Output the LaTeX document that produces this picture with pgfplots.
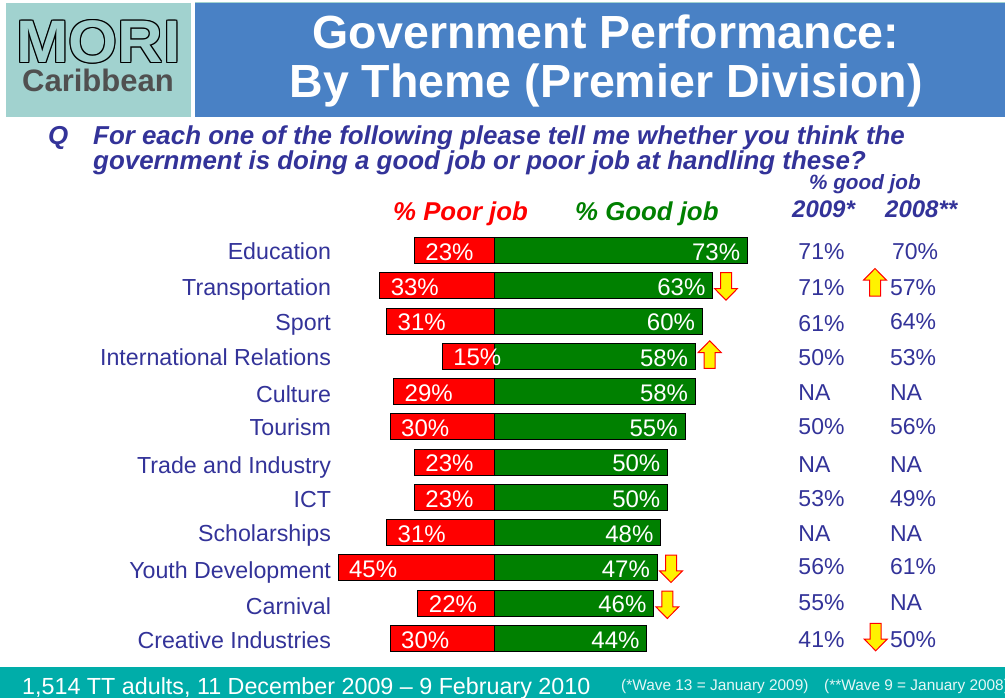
\documentclass[border=0pt]{standalone}
\usepackage{pgfplots}
\pgfplotsset{compat=1.18}
\usepackage{fontspec}
\setmainfont{Liberation Sans}
\definecolor{tblue}{RGB}{51,51,153}
\definecolor{banner}{RGB}{73,129,197}
\definecolor{logo}{RGB}{161,210,207}
\definecolor{foot}{RGB}{0,173,169}
\definecolor{gbar}{RGB}{0,128,0}
\newcommand\fs[1]{\fontsize{#1}{#1}\selectfont}
\newcommand\downarr[2]{\draw[fill=yellow,draw=red,line width=1pt] ({#1-5.5},#2) -- ({#1+5.5},#2) -- ({#1+5.5},{#2+15.8}) -- ({#1+11.5},{#2+15.8}) -- (#1,{#2+27.5}) -- ({#1-11.5},{#2+15.8}) -- ({#1-5.5},{#2+15.8}) -- cycle;}
\newcommand\uparr[2]{\draw[fill=yellow,draw=red,line width=1pt] ({#1-5.5},#2) -- ({#1+5.5},#2) -- ({#1+5.5},{#2-15.8}) -- ({#1+11.5},{#2-15.8}) -- (#1,{#2-27.5}) -- ({#1-11.5},{#2-15.8}) -- ({#1-5.5},{#2-15.8}) -- cycle;}
\begin{document}
\begin{tikzpicture}[x=1pt,y=-1pt]
\path[use as bounding box] (0,0) rectangle (1005,698);
\fill[white] (0,0) rectangle (1005,698);
% banners
\fill[logo] (6,3) rectangle (191,117);
\fill[banner] (195,3) rectangle (1005,117);
\draw[logo,line width=1pt] (195,2.5) -- (1005,2.5);
\foreach \dx/\dy in {-1.2/0,1.2/0,0/-1.2,0/1.2,-.85/-.85,.85/-.85,-.85/.85,.85/.85}{
  \node[anchor=base,inner sep=0,xscale=1.05,text=black] at ({98.5+\dx},{62.5+\dy}) {\fs{60}\bfseries MORI};
}
\node[anchor=base,inner sep=0,xscale=1.05,text=logo] at (98.5,62.5) {\fs{60}\bfseries MORI};
\node[anchor=base,inner sep=0,text={rgb,255:red,80;green,80;blue,80}] at (98,92) {\fs{31}\bfseries Caribbean};
\node[anchor=base,inner sep=0,text=white] at (606,48.5) {\fs{46.5}\bfseries Government Performance:};
\node[anchor=base,inner sep=0,text=white] at (606,98) {\fs{46.5}\bfseries By Theme (Premier Division)};
% question
\begin{scope}[every node/.style={anchor=base west,inner sep=0,text=tblue}]
\node at (48,145) {\fs{25.9}\bfseries\itshape Q};
\node at (93,145) {\fs{25.9}\bfseries\itshape For each one of the following please tell me whether you think the};
\node at (93,170) {\fs{25.9}\bfseries\itshape government is doing a good job or poor job at handling these?};
\node at (809,190) {\fs{20.7}\bfseries\itshape \% good job};
\node at (792,218) {\fs{24}\bfseries\itshape 2009*};
\node at (885,218) {\fs{24}\bfseries\itshape 2008**};
\end{scope}
\node[anchor=base west,inner sep=0,text=red] at (393,221) {\fs{25.8}\bfseries\itshape \% Poor job};
\node[anchor=base west,inner sep=0,text=gbar] at (575,221) {\fs{25.8}\bfseries\itshape \% Good job};
% footer
\fill[foot] (0,667) rectangle (1005,698);
\node[anchor=base west,inner sep=0,text=white] at (22,694) {\fs{23.3}1,514 TT adults, 11 December 2009 – 9 February 2010};
\node[anchor=base west,inner sep=0,text=white!90!foot] at (621,690) {\fs{15.4}(*Wave 13 = January 2009)};
\node[anchor=base west,inner sep=0,text=white!90!foot] at (824,690) {\fs{15.4}(**Wave 9 = January 2008)};
\begin{axis}[
  at={(338.15pt,-655.9pt)},anchor=south west,
  scale only axis,width=409.46pt,height=423pt,
  xmin=-45,xmax=73,ymin=-0.5,ymax=11.5,
  y dir=reverse,clip=false,
  hide x axis,
  axis y line*=left,
  y axis line style={draw=none},
  major tick length=0pt,
  ytick={0,...,11},
  yticklabels={\raisebox{0.5pt}{Education},\raisebox{-1pt}{Transportation},Sport,International Relations,\raisebox{-1.5pt}{Culture},Tourism,\raisebox{-2pt}{Trade and Industry},\raisebox{-1pt}{ICT},\raisebox{0.5pt}{Scholarships},\raisebox{-2pt}{Youth Development},\raisebox{-2pt}{Carnival},\raisebox{-1pt}{Creative Industries}},
  yticklabel style={font=\fs{23.2},text=tblue,anchor=base east,inner sep=0,xshift=-7pt,yshift=-9pt},
  point meta=explicit symbolic,
]
\addplot[xbar,bar shift=0pt,bar width=26pt,fill=gbar,draw=black,line width=1pt,
  nodes near coords=\pgfplotspointmeta,
  nodes near coords style={anchor=east,inner sep=0,xshift=-7pt,yshift=-1.5pt,text=white,font=\fs{24}}]
 coordinates {(73,0)[73\%] (63,1)[63\%] (60,2)[60\%] (58,3)[58\%] (58,4)[58\%] (55,5)[55\%] (50,6)[50\%] (50,7)[50\%] (48,8)[48\%] (47,9)[47\%] (46,10)[46\%] (44,11)[44\%]};
\addplot[xbar,bar shift=0pt,bar width=26pt,fill=red,draw=black,line width=1pt,
  nodes near coords=\pgfplotspointmeta,
  nodes near coords style={anchor=west,inner sep=0,xshift=10.5pt,yshift=-1.5pt,text=white,font=\fs{24}}]
 coordinates {(-23,0)[23\%] (-33,1)[33\%] (-31,2)[31\%] (-15,3)[15\%] (-29,4)[29\%] (-30,5)[30\%] (-23,6)[23\%] (-23,7)[23\%] (-31,8)[31\%] (-45,9)[45\%] (-22,10)[22\%] (-30,11)[30\%]};
\addplot[only marks,mark=none,nodes near coords=\pgfplotspointmeta,
  nodes near coords style={anchor=west,inner sep=0,yshift=-1pt,text=tblue,font=\fs{23}}]
 coordinates {(87.6,0)[71\%] (87.6,1.03)[71\%] (87.6,2.03)[61\%] (87.6,3.02)[50\%] (87.6,4)[NA] (87.6,4.98)[50\%] (87.6,6.03)[NA] (87.6,7.02)[53\%] (87.6,8.01)[NA] (87.6,8.95)[56\%] (87.6,9.97)[55\%] (87.6,11.02)[41\%]};
\addplot[only marks,mark=none,nodes near coords=\pgfplotspointmeta,
  nodes near coords style={anchor=west,inner sep=0,yshift=-1pt,text=tblue,font=\fs{23}}]
 coordinates {(114.6,0)[70\%] (114,1.03)[57\%] (114,2)[64\%] (114,3.02)[53\%] (114,4)[NA] (114,4.98)[56\%] (114,6.03)[NA] (114,7.02)[49\%] (114,8.01)[NA] (114,8.95)[61\%] (114,9.97)[NA] (114,11.02)[50\%]};
\end{axis}
\downarr{726}{272.7}
\uparr{709.7}{368.3}
\uparr{875}{296}
\downarr{671}{555}
\downarr{667.3}{591}
\downarr{875.7}{623.3}
\end{tikzpicture}
\end{document}
